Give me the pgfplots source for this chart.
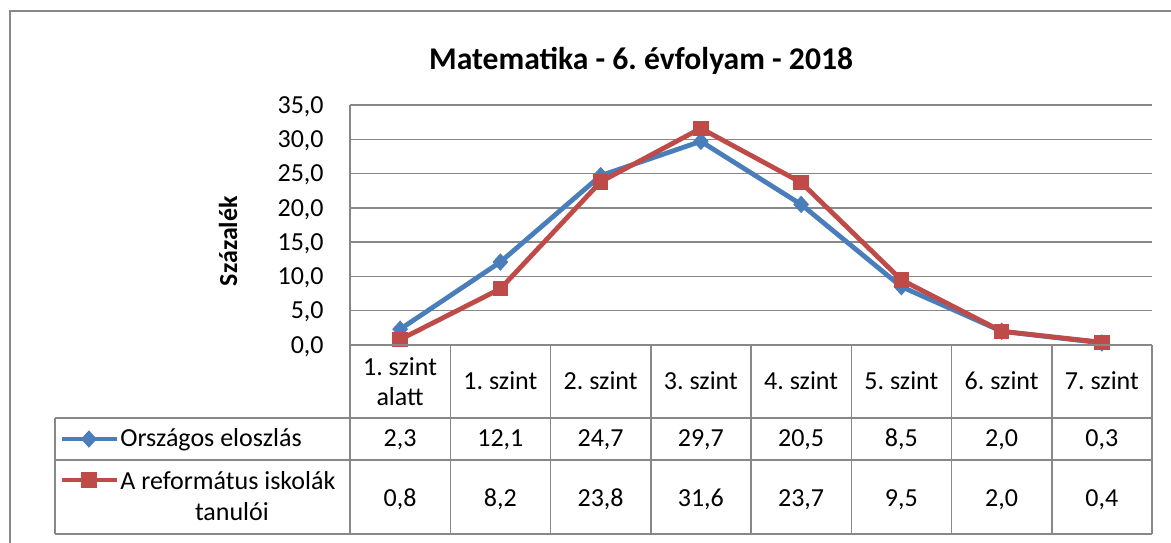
\documentclass[border=0pt]{standalone}
\usepackage{pgfplots}
\pgfplotsset{compat=1.18}
\usepackage{fontspec}
\setmainfont{Carlito}
\definecolor{exblue}{HTML}{4A7EBB}
\definecolor{exred}{HTML}{BE4B48}
\definecolor{gridgray}{HTML}{888888}
\newcommand\bodyf{\fontsize{13}{16}\selectfont}

\begin{document}
\frenchspacing
\begin{tikzpicture}
\begin{axis}[
  at={(0,0)}, anchor=south west,
  scale only axis, width=401pt, height=120pt,
  xmin=-0.5, xmax=7.5, ymin=0, ymax=35,
  ytick={0,5,...,35}, xtick=\empty,
  ymajorgrids, grid style={gridgray, line width=0.75pt},
  axis line style={draw=none},
  major tick length=0pt,
  clip=false,
  /pgf/number format/assume math mode=true,
  yticklabel style={font=\bodyf, anchor=base east, inner sep=0pt, xshift=-13pt, yshift=-4.1pt,
    /pgf/number format/.cd, fixed, fixed zerofill, precision=1, use comma},
  ylabel={Százalék},
  ylabel style={font=\bodyf\bfseries, at={(axis description cs:-0.152,0.433)}, anchor=center},
  title={Matematika - 6. évfolyam - 2018},
  title style={font=\fontsize{15.8}{18}\selectfont\bfseries, inner sep=0pt, yshift=-7pt, at={(axis description cs:0.363,1.157)}, anchor=base},
]
\addplot[exblue, line width=2.4pt, mark=diamond*, mark size=4pt, mark options={solid, line width=0.5pt, xscale=1.2}]
  coordinates {(0,2.3) (1,12.1) (2,24.7) (3,29.7) (4,20.5) (5,8.5) (6,2.0) (7,0.3)};
\addplot[exred, line width=2.4pt, mark=square*, mark size=3.6pt, mark options={solid, line width=0.5pt}]
  coordinates {(0,0.8) (1,8.2) (2,23.8) (3,31.6) (4,23.7) (5,9.5) (6,2.0) (7,0.4)};
% legend keys inside the data table
\addplot[exblue, line width=2.4pt, mark=diamond*, mark size=4pt, mark indices={2}, mark options={solid, line width=0.5pt, xscale=1.2}]
  coordinates {(-3.373,-13.71) (-3.104,-13.71) (-2.824,-13.71)};
\addplot[exred, line width=2.4pt, mark=square*, mark size=3.6pt, mark indices={2}, mark options={solid, line width=0.5pt}]
  coordinates {(-3.373,-19.69) (-3.104,-19.69) (-2.824,-19.69)};
\end{axis}

\begin{scope}[x=0.5pt, y=-0.5pt, shift={(-175pt,172.5pt)}]
  % outer chart border
  \draw[gridgray, line width=0.75pt] (10,600) -- (10,11) -- (1200,11);
  % y axis line and table grid
  \draw[gridgray, line width=0.75pt] (350,105) -- (350,534);
  \draw[gridgray, line width=0.75pt] (350,345) -- (1152,345);
  \draw[gridgray, line width=0.75pt] (55,418) -- (1152,418);
  \draw[gridgray, line width=0.75pt] (55,460) -- (1152,460);
  \draw[gridgray, line width=0.75pt] (55,534) -- (1152,534);
  \draw[gridgray, line width=0.75pt] (55,418) -- (55,534);
  \foreach \k in {1,...,8} {
    \draw[gridgray, line width=0.75pt] ({350+100.25*\k},345) -- ({350+100.25*\k},534);
  }
  % header
  \node[anchor=base, inner sep=0pt, font=\bodyf] at (400.1,375) {1. szint};
  \node[anchor=base, inner sep=0pt, font=\bodyf] at (400.1,405) {alatt};
  \foreach \k/\lab in {1/1. szint,2/2. szint,3/3. szint,4/4. szint,5/5. szint,6/6. szint,7/7. szint} {
    \node[anchor=base, inner sep=0pt, font=\bodyf] at ({350+100.25*(\k+0.5)},389) {\lab};
  }
  % values
  \foreach \k/\a/\b in {0/{2,3}/{0,8},1/{12,1}/{8,2},2/{24,7}/{23,8},3/{29,7}/{31,6},4/{20,5}/{23,7},5/{8,5}/{9,5},6/{2,0}/{2,0},7/{0,3}/{0,4}} {
    \node[anchor=base, inner sep=0pt, font=\bodyf] at ({350+100.25*(\k+0.5)},446.7) {\a};
    \node[anchor=base, inner sep=0pt, font=\bodyf] at ({350+100.25*(\k+0.5)},506.7) {\b};
  }
  % row labels
  \node[anchor=base west, inner sep=0pt, font=\bodyf] at (120,446.7) {Országos eloszlás};
  \node[anchor=base west, inner sep=0pt, font=\bodyf] at (120,489) {A református iskolák};
  \node[anchor=base, inner sep=0pt, font=\bodyf] at (232,520) {tanulói};
  \pgfresetboundingbox
  \path[use as bounding box] (0,0) rectangle (1171,542);
\end{scope}
\end{tikzpicture}
\end{document}
